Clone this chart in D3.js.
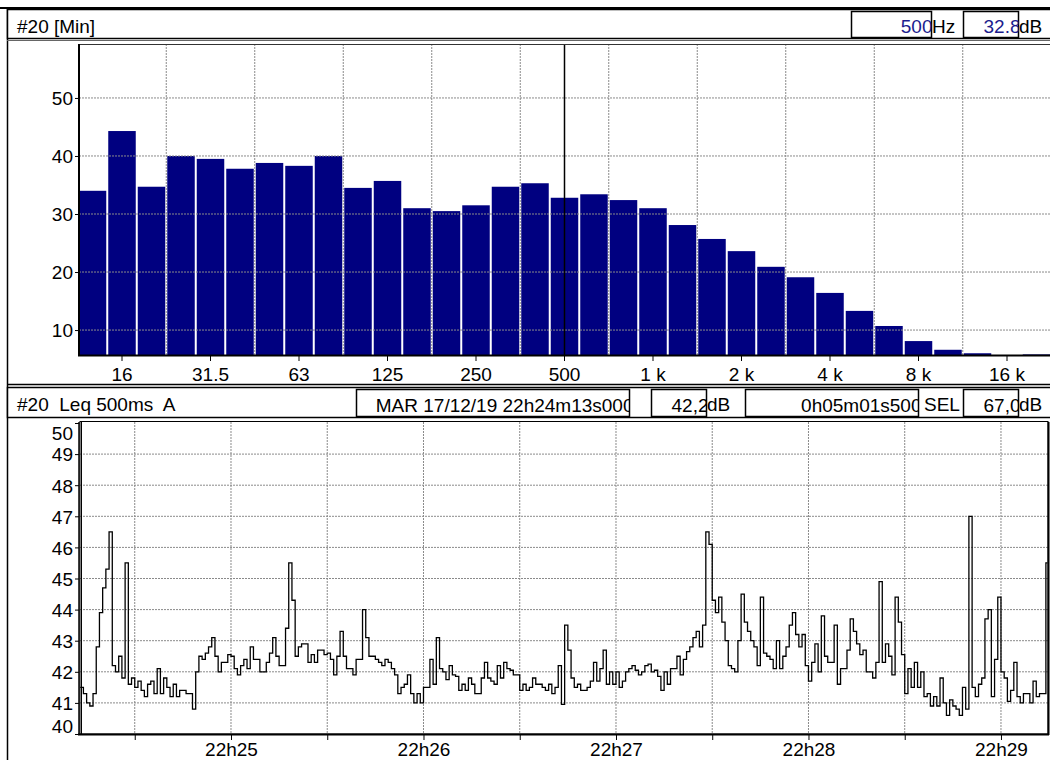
<!DOCTYPE html>
<html>
<head>
<meta charset="utf-8">
<script src="https://cdn.jsdelivr.net/npm/d3@7"></script>
<style>
  body { margin: 0; background: #fff; }
  svg { display: block; font-family: "Liberation Sans", Arial, sans-serif; font-size: 19px; }
  .grid line { stroke: #8a8a8a; stroke-width: 1; stroke-dasharray: 2,1; }
  .hdr { white-space: pre; }
</style>
</head>
<body>
<div id="chart"></div>
<script>
// third-octave spectrum, [Min] levels (dB)
const bandFreqs = [12.5, 16, 20, 25, 31.5, 40, 50, 63, 80, 100, 125, 160, 200, 250, 315, 400, 500,
  630, 800, 1000, 1250, 1600, 2000, 2500, 3150, 4000, 5000, 6300, 8000, 10000, 12500, 16000, 20000];
const bandLevels = [34.0, 44.3, 34.7, 40.0, 39.5, 37.8, 38.8, 38.3, 40.0, 34.5, 35.7, 31.0, 30.5, 31.5, 34.7, 35.3, 32.8,
  33.4, 32.4, 31.0, 28.1, 25.7, 23.6, 20.9, 19.1, 16.4, 13.3, 10.7, 8.1, 6.6, 6.0, 5.6, 5.8];
const bandTicks = [16, 31.5, 63, 125, 250, 500, 1000, 2000, 4000, 8000, 16000];
const levelTicks = [10, 20, 30, 40, 50];
const cursorFreq = 500;

// Leq 500ms A, read once per second from 22h24m13s000
const leqStart = new Date(2019, 11, 17, 22, 24, 13);
const leqDuration = 301.5; // seconds (0h05m01s500)
const leqValues = [
  41.5, 41.3, 41.0, 40.9, 41.3, 42.8, 43.9, 44.7, 45.3, 46.5,
  42.2, 42.0, 42.5, 41.8, 45.5, 41.6, 41.8, 41.5, 41.7, 41.4,
  41.2, 41.6, 41.7, 41.3, 42.1, 41.3, 41.8, 41.5, 41.2, 41.6,
  41.2, 41.4, 41.4, 41.3, 41.3, 40.8, 42.0, 42.5, 42.4, 42.6,
  42.8, 43.1, 42.5, 42.0, 42.3, 42.3, 42.55, 42.5, 42.1, 41.9,
  42.2, 42.4, 42.1, 42.8, 42.4, 42.4, 42.0, 42.0, 42.3, 42.6,
  43.1, 42.5, 42.2, 42.2, 43.4, 45.5, 44.3, 42.5, 42.8, 42.9,
  42.9, 42.3, 42.55, 42.3, 42.7, 42.7, 42.55, 42.6, 42.4, 41.9,
  42.5, 43.3, 42.5, 42.1, 42.1, 41.9, 42.4, 42.4, 44.0, 43.1,
  42.5, 42.5, 42.4, 42.3, 42.2, 42.4, 42.3, 42.1, 41.9, 41.3,
  41.5, 41.6, 41.9, 41.3, 41.0, 41.3, 41.0, 41.5, 41.5, 42.4,
  41.6, 43.1, 42.1, 42.0, 41.75, 42.2, 41.9, 41.85, 41.4, 41.6,
  41.4, 41.8, 41.6, 41.3, 41.3, 41.8, 42.3, 41.8, 41.7, 41.6,
  42.2, 41.8, 42.3, 42.1, 42.05, 41.9, 41.9, 41.4, 41.6, 41.4,
  41.5, 41.8, 41.6, 41.6, 41.5, 41.4, 41.6, 41.3, 41.5, 42.2,
  40.95, 43.5, 42.7, 41.8, 41.5, 41.6, 41.4, 41.4, 41.5, 41.7,
  42.3, 41.7, 42.1, 42.7, 41.6, 42.0, 41.6, 42.0, 41.5, 41.7,
  42.0, 42.1, 42.2, 42.05, 41.9, 42.0, 42.2, 42.25, 42.0, 42.05,
  41.85, 41.4, 42.0, 41.6, 42.1, 42.1, 42.5, 41.9, 42.4, 42.65,
  42.8, 43.1, 43.3, 42.8, 43.5, 46.5, 46.1, 44.3, 43.9, 44.4,
  43.6, 43.0, 42.2, 42.1, 42.0, 43.0, 44.5, 43.6, 43.3, 43.0,
  42.8, 42.2, 44.4, 42.6, 42.5, 42.4, 42.1, 43.0, 42.1, 42.5,
  42.8, 43.5, 43.9, 43.2, 42.8, 43.2, 42.2, 41.7, 42.3, 42.9,
  42.0, 43.8, 42.5, 42.3, 42.3, 43.5, 41.6, 42.1, 42.1, 42.7,
  43.7, 43.3, 42.9, 42.55, 42.7, 42.0, 42.0, 41.8, 42.3, 44.9,
  42.3, 42.9, 42.5, 41.9, 44.4, 43.6, 42.55, 41.3, 42.1, 41.5,
  42.3, 41.5, 42.0, 41.2, 41.3, 40.9, 41.2, 40.9, 41.8, 41.0,
  40.6, 41.1, 40.9, 40.8, 40.6, 41.5, 40.8, 47.0, 41.5, 41.2,
  41.6, 41.8, 43.7, 44.0, 41.2, 42.4, 44.4, 42.0, 41.8, 41.05,
  41.4, 42.3, 41.2, 41.0, 41.3, 41.3, 41.0, 41.7, 41.2, 41.3,
  41.3, 45.5
];
const leqTicks = [40, 41, 42, 43, 44, 45, 46, 47, 48, 49, 50];

// header texts
const specTitle = "#20 [Min]";
const specCursor = ["500", "Hz", "32.8", "dB"];
const leqTitle = "#20  Leq 500ms  A";
const leqInfo = ["MAR 17/12/19 22h24m13s000", "42,2", "dB", "0h05m01s500", "SEL", "67,0", "dB"];

const WIDTH = 1050, HEIGHT = 760;
const specArea = { LEFT: 79, RIGHT: 1052, TOP: 44, BOTTOM: 355 };
const leqArea = { LEFT: 80, RIGHT: 1048, TOP: 422, BOTTOM: 734 };

const svg = d3.select("#chart").append("svg")
  .attr("width", WIDTH)
  .attr("height", HEIGHT);
const defs = svg.append("defs");
let clipCount = 0;

function clipRect(x, y, w, h) {
  const id = "clip" + (clipCount++);
  defs.append("clipPath").attr("id", id)
    .append("rect").attr("x", x).attr("y", y).attr("width", w).attr("height", h);
  return `url(#${id})`;
}

// boxed value, text right aligned and cut by the box edge
function valueBox(x, y, w, h, text, color, over) {
  svg.append("rect")
    .attr("x", x).attr("y", y).attr("width", w).attr("height", h)
    .attr("fill", "white").attr("stroke", "black").attr("stroke-width", 1.5);
  svg.append("text")
    .attr("clip-path", clipRect(x, y, w, h))
    .attr("x", x + w + over).attr("y", y + h - 5)
    .attr("text-anchor", "end")
    .attr("fill", color)
    .text(text);
}

function plainText(x, y, text) {
  svg.append("text").attr("class", "hdr").attr("x", x).attr("y", y).text(text);
}

// outer frame
svg.append("line").attr("x1", 0).attr("x2", WIDTH).attr("y1", 8).attr("y2", 8)
  .attr("stroke", "black").attr("stroke-width", 2);
svg.append("line").attr("x1", 7.5).attr("x2", 7.5).attr("y1", 8).attr("y2", HEIGHT)
  .attr("stroke", "black").attr("stroke-width", 1.5);

// ---------- spectrum panel ----------
svg.append("rect")
  .attr("x", 7.5).attr("y", 9.5).attr("width", 1050).attr("height", 29)
  .attr("fill", "white").attr("stroke", "black").attr("stroke-width", 1.5);
svg.append("line").attr("x1", 7).attr("x2", WIDTH).attr("y1", 40.5).attr("y2", 40.5)
  .attr("stroke", "#666").attr("stroke-width", 1);
plainText(17, 33, specTitle);
valueBox(851.5, 11.5, 80, 26, specCursor[0], "#1c1c8e", 1);
plainText(932, 33, specCursor[1]);
valueBox(963.5, 11.5, 55, 26, specCursor[2], "#1c1c8e", 2);
plainText(1019, 33, specCursor[3]);

// scales
const x = d3.scaleBand()
  .domain(bandFreqs)
  .range([77.75, 77.75 + bandFreqs.length * 29.5]);
const y = d3.scaleLinear()
  .domain([5.7, 59.3])
  .range([specArea.BOTTOM, specArea.TOP]);

const specClip = clipRect(specArea.LEFT, specArea.TOP,
  specArea.RIGHT - specArea.LEFT, specArea.BOTTOM - specArea.TOP);

// bars
svg.append("g").attr("clip-path", specClip)
  .selectAll("rect")
  .data(bandFreqs)
  .join("rect")
  .attr("x", d => x(d) + 1)
  .attr("width", x.bandwidth() - 2)
  .attr("y", (d, i) => y(bandLevels[i]))
  .attr("height", (d, i) => specArea.BOTTOM - y(bandLevels[i]))
  .attr("fill", "#000080");

// grid (drawn over the bars)
const specGrid = svg.append("g").attr("class", "grid").attr("clip-path", specClip);
specGrid.selectAll(".h")
  .data(levelTicks)
  .join("line")
  .attr("x1", specArea.LEFT).attr("x2", specArea.RIGHT)
  .attr("y1", d => y(d)).attr("y2", d => y(d));
specGrid.selectAll(".v")
  .data(bandFreqs.filter((d, i) => i % 3 === 0 && i > 0))
  .join("line")
  .attr("x1", d => x(d)).attr("x2", d => x(d))
  .attr("y1", specArea.TOP).attr("y2", specArea.BOTTOM);

// cursor at 500 Hz
svg.append("line")
  .attr("x1", x(cursorFreq) + x.bandwidth() / 2).attr("x2", x(cursorFreq) + x.bandwidth() / 2)
  .attr("y1", specArea.TOP).attr("y2", specArea.BOTTOM)
  .attr("stroke", "black").attr("stroke-width", 1.5);

// axes
const formatFreq = f => f >= 1000 ? (f / 1000) + " k" : String(f);
const xAxis = svg.append("g")
  .attr("transform", `translate(0, ${specArea.BOTTOM + 1})`)
  .call(d3.axisBottom(x).tickValues(bandTicks).tickFormat(formatFreq).tickSize(5).tickPadding(7));
const yAxis = svg.append("g")
  .attr("transform", `translate(${specArea.LEFT}, 0)`)
  .call(d3.axisLeft(y).tickValues(levelTicks).tickSize(4).tickPadding(2));
[xAxis, yAxis].forEach(a => {
  a.attr("font-size", null).attr("font-family", null);
  a.select(".domain").remove();
  a.selectAll("line").attr("stroke", "black");
  a.selectAll("text").attr("fill", "black");
});
yAxis.selectAll("text").attr("dy", "0.36em");

// plot frame
svg.append("line").attr("x1", specArea.LEFT).attr("x2", specArea.RIGHT)
  .attr("y1", specArea.TOP + 0.5).attr("y2", specArea.TOP + 0.5)
  .attr("stroke", "#333").attr("stroke-width", 1);
svg.append("line").attr("x1", specArea.LEFT).attr("x2", specArea.LEFT)
  .attr("y1", specArea.TOP).attr("y2", specArea.BOTTOM + 1)
  .attr("stroke", "black").attr("stroke-width", 2);
svg.append("line").attr("x1", specArea.LEFT - 1).attr("x2", WIDTH)
  .attr("y1", specArea.BOTTOM + 0.5).attr("y2", specArea.BOTTOM + 0.5)
  .attr("stroke", "black").attr("stroke-width", 2);

// panel separator
svg.append("line").attr("x1", 7).attr("x2", WIDTH).attr("y1", 384.5).attr("y2", 384.5)
  .attr("stroke", "black").attr("stroke-width", 1.5);

// ---------- Leq time panel ----------
svg.append("rect")
  .attr("x", 7.5).attr("y", 387.5).attr("width", 1050).attr("height", 30)
  .attr("fill", "white").attr("stroke", "black").attr("stroke-width", 1.5);
plainText(17, 411, leqTitle);
valueBox(356.5, 389.5, 273, 27, leqInfo[0], "black", 4);
valueBox(651.5, 389.5, 55, 27, leqInfo[1], "black", 2);
plainText(707, 411, leqInfo[2]);
valueBox(745.5, 389.5, 173, 27, leqInfo[3], "black", 3);
plainText(924, 411, leqInfo[4]);
valueBox(963.5, 389.5, 55, 27, leqInfo[5], "black", 2);
plainText(1019, 411, leqInfo[6]);

const xTime = d3.scaleTime()
  .domain([leqStart, new Date(+leqStart + leqDuration * 1000)])
  .range([80.2, 1047.5]);
const yLeq = d3.scaleLinear()
  .domain([40, 50])
  .range([leqArea.BOTTOM, 423]);

const timeTicks = xTime.ticks(d3.timeSecond.every(30));
const formatMinute = d3.timeFormat("%Hh%M");

// grid
const leqGrid = svg.append("g").attr("class", "grid");
leqGrid.selectAll(".h")
  .data(leqTicks.slice(1, -1))
  .join("line")
  .attr("x1", leqArea.LEFT).attr("x2", leqArea.RIGHT)
  .attr("y1", d => yLeq(d)).attr("y2", d => yLeq(d));
leqGrid.selectAll(".v")
  .data(timeTicks)
  .join("line")
  .attr("x1", d => xTime(d)).attr("x2", d => xTime(d))
  .attr("y1", leqArea.TOP).attr("y2", leqArea.BOTTOM);

// level trace
const leqPoints = leqValues.map((v, i) => ({ t: new Date(+leqStart + i * 1000), v }));
leqPoints.push({ t: new Date(+leqStart + leqDuration * 1000), v: leqValues[leqValues.length - 1] });
const line = d3.line()
  .x(d => xTime(d.t))
  .y(d => yLeq(d.v))
  .curve(d3.curveStepAfter);
svg.append("path")
  .attr("d", line(leqPoints))
  .attr("fill", "none")
  .attr("stroke", "black")
  .attr("stroke-width", 1.3);

// axes
const tAxis = svg.append("g")
  .attr("transform", `translate(0, ${leqArea.BOTTOM + 1})`)
  .call(d3.axisBottom(xTime).tickValues(timeTicks)
    .tickFormat(d => d.getSeconds() === 0 ? formatMinute(d) : "")
    .tickSize(5).tickPadding(3));
const lAxis = svg.append("g")
  .attr("transform", `translate(${leqArea.LEFT - 1}, 0)`)
  .call(d3.axisLeft(yLeq).tickValues(leqTicks).tickFormat(d3.format("d")).tickSize(4).tickPadding(2));
[tAxis, lAxis].forEach(a => {
  a.attr("font-size", null).attr("font-family", null);
  a.select(".domain").remove();
  a.selectAll("line").attr("stroke", "black");
  a.selectAll("text").attr("fill", "black");
});
// end labels pulled inside the plot
lAxis.selectAll("text")
  .attr("dy", d => d === 50 ? "0.88em" : d === 40 ? "-0.08em" : "0.36em");

// frame
svg.append("rect")
  .attr("x", leqArea.LEFT).attr("y", leqArea.TOP - 0.5)
  .attr("width", leqArea.RIGHT - leqArea.LEFT).attr("height", leqArea.BOTTOM - leqArea.TOP + 0.5)
  .attr("fill", "none").attr("stroke", "black").attr("stroke-width", 1);
svg.append("line").attr("x1", leqArea.LEFT - 1).attr("x2", leqArea.LEFT - 1)
  .attr("y1", leqArea.TOP).attr("y2", leqArea.BOTTOM + 1)
  .attr("stroke", "black").attr("stroke-width", 1.5);
svg.append("line").attr("x1", leqArea.LEFT + 1.5).attr("x2", leqArea.LEFT + 1.5)
  .attr("y1", leqArea.TOP).attr("y2", leqArea.BOTTOM)
  .attr("stroke", "black").attr("stroke-width", 1);
svg.append("line").attr("x1", leqArea.LEFT - 2).attr("x2", leqArea.RIGHT + 1)
  .attr("y1", leqArea.BOTTOM + 0.5).attr("y2", leqArea.BOTTOM + 0.5)
  .attr("stroke", "black").attr("stroke-width", 2);
svg.append("line").attr("x1", leqArea.RIGHT + 0.5).attr("x2", leqArea.RIGHT + 0.5)
  .attr("y1", leqArea.TOP).attr("y2", leqArea.BOTTOM + 1)
  .attr("stroke", "black").attr("stroke-width", 2);
</script>
</body>
</html>
